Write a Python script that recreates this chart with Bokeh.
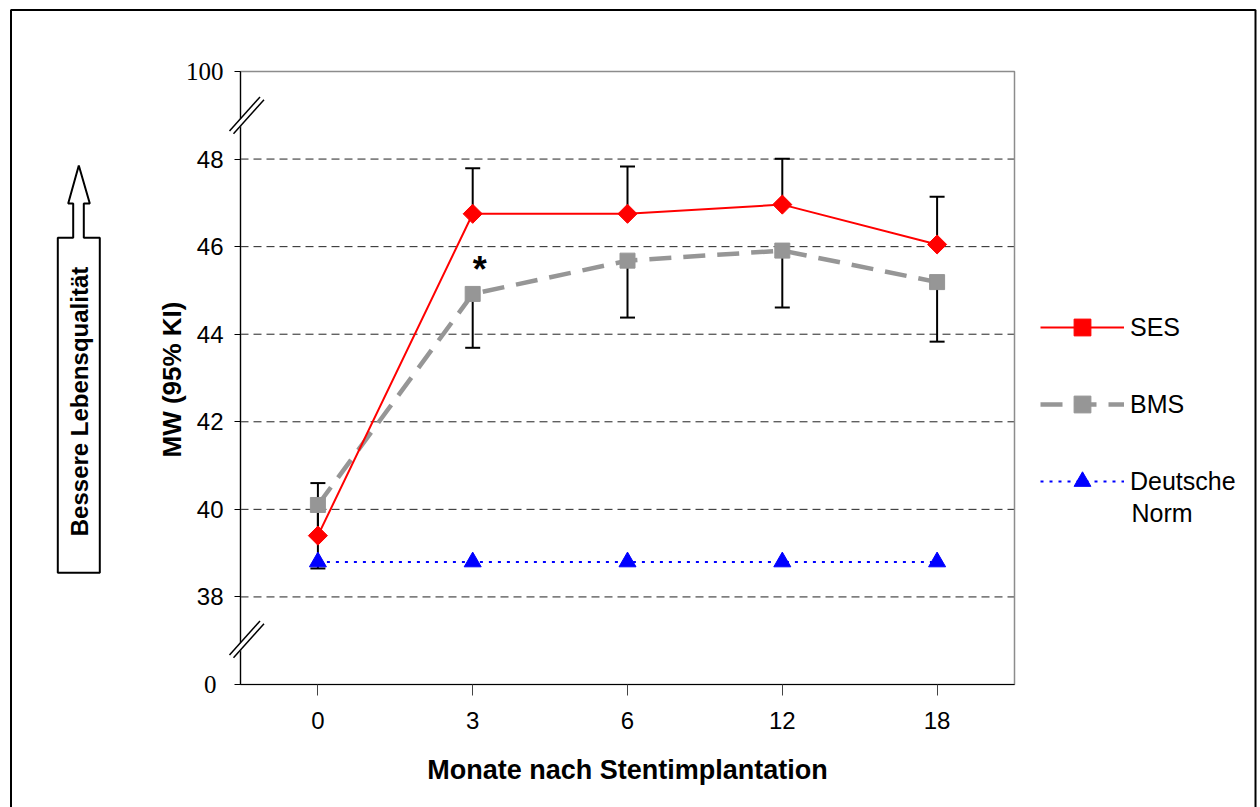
import numpy as np
from bokeh.plotting import figure
from bokeh.models import (Range1d, FixedTicker, ColumnDataSource, Whisker, TeeHead, Label,
                          PolyAnnotation, BoxAnnotation, Arrow, Legend, LegendItem)
from bokeh.embed import file_html
from bokeh.resources import INLINE

# ---------------- data ----------------
months = ["0", "3", "6", "12", "18"]
ses_mean = [39.4, 46.75, 46.75, 46.96, 46.05]
ses_upper = [40.6, 47.79, 47.83, 48.01, 47.14]
bms_mean = [40.1, 44.92, 45.68, 45.91, 45.19]
bms_lower = [38.65, 43.69, 44.38, 44.61, 43.83]
norm_mean = [38.8, 38.8, 38.8, 38.8, 38.8]

# broken axis: position 36 shows "0", position 50 shows "100"
y_tick_pos = [36, 38, 40, 42, 44, 46, 48, 50]
y_tick_labels = ["0", "38", "40", "42", "44", "46", "48", "100"]
y_grid_pos = [38, 40, 42, 44, 46, 48]
serif_ticks = {36, 50}

legend_labels = ["SES", "BMS", "Deutsche"]
legend_label_cont = "Norm"
x_title = "Monate nach Stentimplantation"
y_title = "MW (95% KI)"
arrow_text = "Bessere Lebensqualität"

# ---------------- layout ----------------
W, H = 1260, 807
FL, FR, FT, FB = 240, 1014, 71, 684      # plot area in page pixels
X0, X1 = -0.5, 4.5
Y0, Y1 = 36, 50

def dx(px):
    return X0 + (px - FL) / (FR - FL) * (X1 - X0)

def dy(py):
    return Y1 - (py - FT) / (FB - FT) * (Y1 - Y0)

SANS = "Liberation Sans"
SERIF = "Liberation Serif"

p = figure(width=W, height=H, title=None,
           x_range=Range1d(dx(0), dx(W)), y_range=Range1d(dy(H), dy(0)),
           output_backend="svg", toolbar_location=None, min_border=0)
p.background_fill_color = "white"
p.border_fill_color = "white"
p.outline_line_color = None
p.xgrid.visible = False
p.ygrid.visible = False

# plot-area frame (grey top/right)
p.add_layout(BoxAnnotation(left=X0, right=X1, bottom=Y0, top=Y1, fill_alpha=0,
                           line_color="#8c8c8c", line_alpha=1, line_width=1.5, level="underlay"))

# dashed horizontal grid lines
gsrc = ColumnDataSource(dict(y=y_grid_pos, x0=[X0] * len(y_grid_pos), x1=[X1] * len(y_grid_pos)))
p.segment(x0="x0", x1="x1", y0="y", y1="y", source=gsrc, line_color="#222222",
          line_width=1, line_dash="8 5", level="underlay")

# axes placed at the plot area edges
p.yaxis.fixed_location = X0
p.yaxis.bounds = (Y0, Y1)
p.yaxis.ticker = FixedTicker(ticks=y_tick_pos)
p.yaxis.major_label_overrides = {v: ("" if v in serif_ticks else l)
                                 for v, l in zip(y_tick_pos, y_tick_labels)}
p.yaxis.minor_tick_line_color = None
p.yaxis.major_tick_out = 6
p.yaxis.major_tick_in = 0
p.yaxis.major_label_standoff = 11
p.yaxis.axis_line_color = "black"
p.yaxis.axis_line_width = 1.2
p.yaxis.major_tick_line_color = "black"
p.yaxis.major_label_text_font = SANS
p.yaxis.major_label_text_font_size = "24px"
p.yaxis.major_label_text_color = "black"

p.xaxis.fixed_location = Y0
p.xaxis.bounds = (X0, X1)
p.xaxis.ticker = FixedTicker(ticks=list(range(len(months))))
p.xaxis.major_label_overrides = {i: m for i, m in enumerate(months)}
p.xaxis.minor_tick_line_color = None
p.xaxis.major_tick_out = 11
p.xaxis.major_tick_in = 0
p.xaxis.major_label_standoff = 16
p.xaxis.axis_line_color = "black"
p.xaxis.axis_line_width = 1.2
p.xaxis.major_tick_line_color = "#444444"
p.xaxis.major_label_text_font = SANS
p.xaxis.major_label_text_font_size = "24px"
p.xaxis.major_label_text_color = "black"
p.xaxis.axis_label = x_title
p.xaxis.axis_label_text_font = SANS
p.xaxis.axis_label_text_font_style = "bold"
p.xaxis.axis_label_text_font_size = "27px"
p.xaxis.axis_label_text_color = "black"
p.xaxis.axis_label_standoff = 23

# serif tick labels for the broken ends
for v, l in zip(y_tick_pos, y_tick_labels):
    if v in serif_ticks:
        p.add_layout(Label(x=dx(223 if v == 50 else 216), y=v, text=l, text_align="right",
                           text_baseline="middle", text_font=SERIF, text_font_size="25px",
                           text_color="black"))

# ---------------- series ----------------
xs = list(range(len(months)))
src = ColumnDataSource(dict(x=xs, ses=ses_mean, ses_up=ses_upper,
                            bms=bms_mean, bms_lo=bms_lower, norm=norm_mean))

w_ses = Whisker(base="x", upper="ses_up", lower="ses", source=src,
                upper_head=TeeHead(size=15, line_width=2, line_color="black"), lower_head=None,
                line_color="black", line_width=2, level="underlay")
w_bms = Whisker(base="x", upper="bms", lower="bms_lo", source=src,
                lower_head=TeeHead(size=15, line_width=2, line_color="black"), upper_head=None,
                line_color="black", line_width=2, level="underlay")
p.add_layout(w_ses)
p.add_layout(w_bms)

r_bms_l = p.line("x", "bms", source=src, line_color="#969696", line_width=4.5, line_dash="22 12")
r_bms_p = p.scatter("x", "bms", source=src, marker="square", size=15,
                    fill_color="#969696", line_color="#969696")
r_ses_l = p.line("x", "ses", source=src, line_color="#ff0000", line_width=2)
r_ses_p = p.scatter("x", "ses", source=src, marker="square", angle=np.pi / 4, size=13.5,
                    fill_color="#ff0000", line_color="#ff0000")
r_norm_l = p.line("x", "norm", source=src, line_color="#0000ff", line_width=2, line_dash="3 6")
r_norm_p = p.scatter("x", "norm", source=src, marker="triangle", size=17,
                     fill_color="#0000ff", line_color="#0000ff")

# significance marker
p.add_layout(Label(x=1, x_offset=7, y=dy(269), text="*", text_align="center",
                   text_baseline="middle", text_font=SANS, text_font_style="bold",
                   text_font_size="36px", text_color="black"))

# legend (bottom-left corner given in screen pixels from the canvas bottom-left)
legend = Legend(items=[LegendItem(label=legend_labels[0], renderers=[r_ses_l, r_ses_p]),
                       LegendItem(label=legend_labels[1], renderers=[r_bms_l, r_bms_p]),
                       LegendItem(label=legend_labels[2], renderers=[r_norm_l, r_norm_p])],
                location=(1040, 305), orientation="vertical",
                glyph_width=84, glyph_height=42, label_height=42, label_standoff=6, spacing=35,
                padding=0, margin=0, border_line_alpha=0, background_fill_alpha=0,
                label_text_font=SANS, label_text_font_size="25px", label_text_color="black")
p.add_layout(legend)
p.add_layout(Label(x=dx(1131), y=dy(512), text=legend_label_cont, text_align="left",
                   text_baseline="middle", text_font=SANS, text_font_size="25px",
                   text_color="black"))

# y title
p.add_layout(Label(x=dx(171), y=dy(379), text=y_title, angle=np.pi / 2, text_align="center",
                   text_baseline="middle", text_font=SANS, text_font_style="bold",
                   text_font_size="26px", text_color="black"))

# "better quality of life" arrow box
ax = [78.3, 89.3, 83.3, 83.3, 99.3, 99.3, 57.3, 57.3, 72.7, 72.7, 67.7]
ay = [165, 203, 203, 237.3, 237.3, 572.3, 572.3, 237.3, 237.3, 203, 203]
p.add_layout(PolyAnnotation(xs=[dx(v) for v in ax], ys=[dy(v) for v in ay],
                            fill_color="white", fill_alpha=1, line_color="black",
                            line_alpha=1, line_width=2))
p.add_layout(Label(x=dx(78.5), y=dy(401), text=arrow_text, angle=np.pi / 2, text_align="center",
                   text_baseline="middle", text_font=SANS, text_font_style="bold",
                   text_font_size="24px", text_color="black"))

# axis break marks
for cy in (113.5, 637.5):
    gx = [230, 258.5, 262.5, 234]
    gy = [cy + 17, cy - 16.5, cy - 13.5, cy + 20]
    p.add_layout(PolyAnnotation(xs=[dx(v) for v in gx], ys=[dy(v) for v in gy],
                                fill_color="white", fill_alpha=1, line_alpha=0))
    for off in (0, 4):
        p.add_layout(Arrow(x_start=dx(229 + off), y_start=dy(cy + 17 + off * 0.7),
                           x_end=dx(259.5 + off), y_end=dy(cy - 17 + off * 0.7),
                           end=None, line_color="black", line_width=1.5))

# outer frame of the figure
p.add_layout(BoxAnnotation(left=dx(10.5), right=dx(1255), top=dy(9.5), bottom=dy(840),
                           fill_alpha=0, line_color="black", line_alpha=1, line_width=2))

open("out.html", "w").write(file_html(p, INLINE))
